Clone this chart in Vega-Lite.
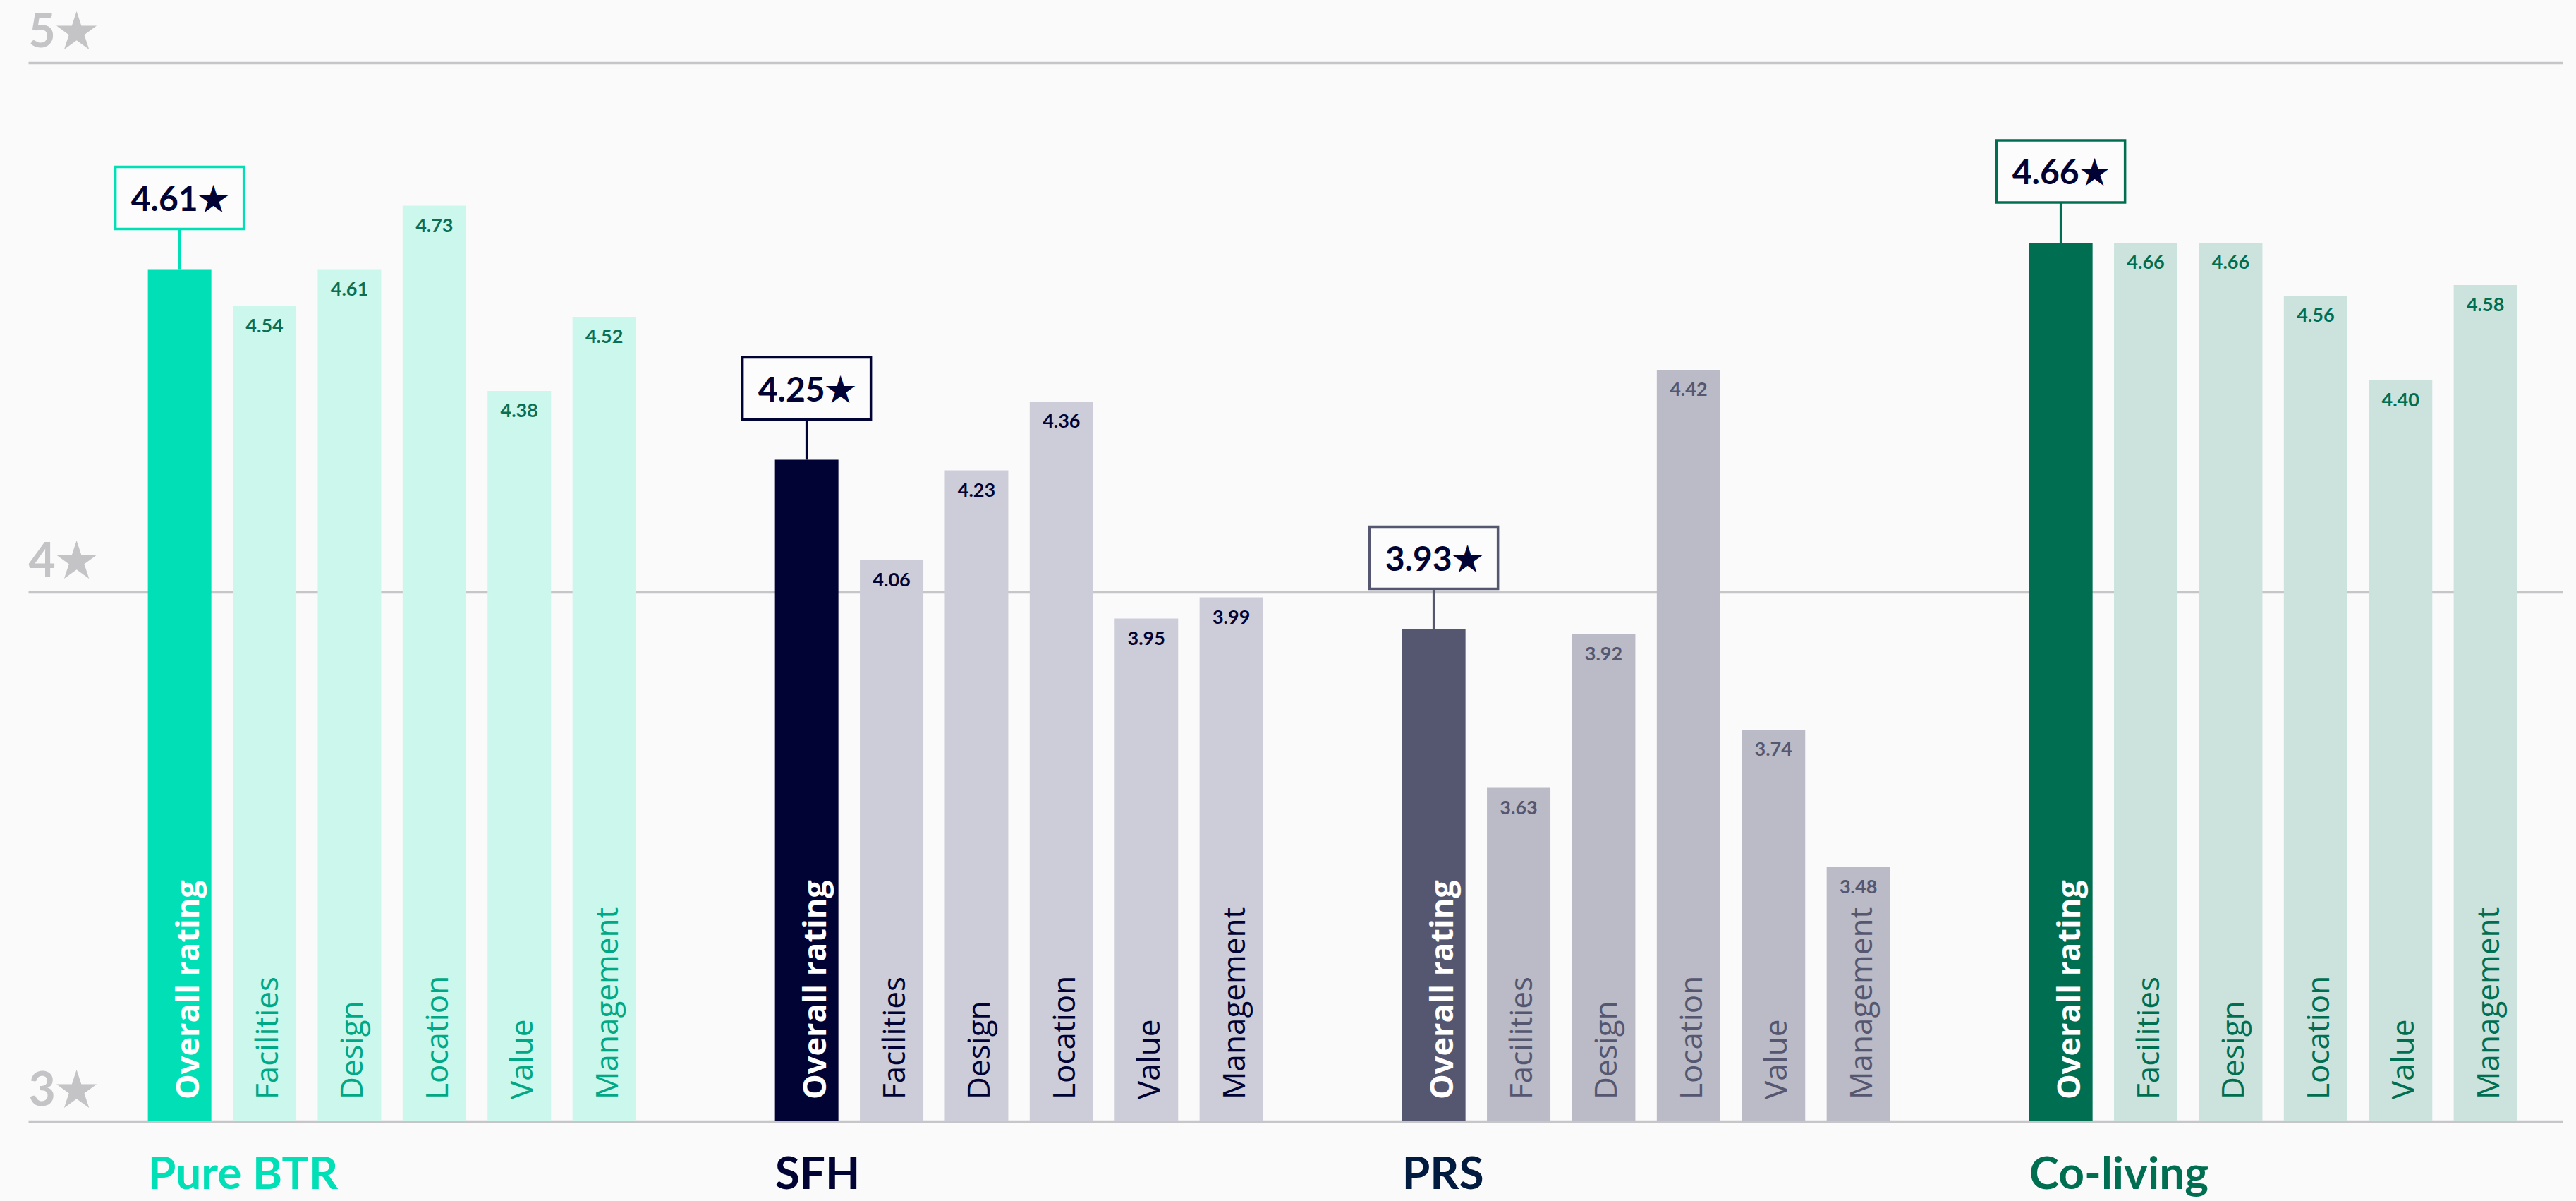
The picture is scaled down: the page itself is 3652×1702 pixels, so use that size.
{
  "$schema": "https://vega.github.io/schema/vega-lite/v6.json",
  "width": 3593,
  "height": 1500,
  "autosize": {"type": "none"},
  "padding": {"left": 40, "top": 89, "right": 19, "bottom": 113},
  "background": "#fafafa",
  "config": {"view": {"stroke": null}, "font": "Lato"},
  "data": {
    "values": [
      {"group": "Pure BTR", "category": "Overall rating", "value": 4.61},
      {"group": "Pure BTR", "category": "Facilities", "value": 4.54},
      {"group": "Pure BTR", "category": "Design", "value": 4.61},
      {"group": "Pure BTR", "category": "Location", "value": 4.73},
      {"group": "Pure BTR", "category": "Value", "value": 4.38},
      {"group": "Pure BTR", "category": "Management", "value": 4.52},
      {"group": "SFH", "category": "Overall rating", "value": 4.25},
      {"group": "SFH", "category": "Facilities", "value": 4.06},
      {"group": "SFH", "category": "Design", "value": 4.23},
      {"group": "SFH", "category": "Location", "value": 4.36},
      {"group": "SFH", "category": "Value", "value": 3.95},
      {"group": "SFH", "category": "Management", "value": 3.99},
      {"group": "PRS", "category": "Overall rating", "value": 3.93},
      {"group": "PRS", "category": "Facilities", "value": 3.63},
      {"group": "PRS", "category": "Design", "value": 3.92},
      {"group": "PRS", "category": "Location", "value": 4.42},
      {"group": "PRS", "category": "Value", "value": 3.74},
      {"group": "PRS", "category": "Management", "value": 3.48},
      {"group": "Co-living", "category": "Overall rating", "value": 4.66},
      {"group": "Co-living", "category": "Facilities", "value": 4.66},
      {"group": "Co-living", "category": "Design", "value": 4.66},
      {"group": "Co-living", "category": "Location", "value": 4.56},
      {"group": "Co-living", "category": "Value", "value": 4.40},
      {"group": "Co-living", "category": "Management", "value": 4.58}
    ]
  },
  "transform": [
    {"calculate": "datum.group + '|' + (datum.category === 'Overall rating' ? 'o' : 's')", "as": "kind"},
    {"calculate": "format(datum.value, '.2f') + '★'", "as": "boxLabel"}
  ],
  "encoding": {
    "x": {
      "field": "group",
      "type": "nominal",
      "sort": ["Pure BTR", "SFH", "PRS", "Co-living"],
      "scale": {"paddingInner": 0.2216, "paddingOuter": 0.1316, "align": 0.725},
      "axis": {
        "title": null,
        "domain": false,
        "ticks": false,
        "tickSize": 0,
        "labelAngle": 0,
        "labelAlign": "left",
        "labelOffset": -346,
        "labelPadding": 95,
        "labelBaseline": "alphabetic",
        "labelFont": "Lato",
        "labelFontSize": 64,
        "labelFontWeight": "bold",
        "labelLimit": 1000,
        "labelColor": {"expr": "datum.value === 'Pure BTR' ? '#00dfb6' : datum.value === 'Co-living' ? '#006f51' : datum.value === 'PRS' ? '#001a40' : '#000333'"}
      }
    },
    "xOffset": {
      "field": "category",
      "type": "nominal",
      "sort": ["Overall rating", "Facilities", "Design", "Location", "Value", "Management"],
      "scale": {"paddingInner": 0.2525, "paddingOuter": 0}
    }
  },
  "layer": [
    {
      "mark": {"type": "bar"},
      "encoding": {
        "y": {
          "field": "value",
          "type": "quantitative",
          "scale": {"domain": [3, 5], "zero": false, "nice": false},
          "axis": {
            "title": null,
            "values": [3, 4, 5],
            "grid": true,
            "gridColor": "#c6c6c8",
            "gridWidth": 3.7,
            "domain": false,
            "ticks": false,
            "tickSize": 0,
            "labelExpr": "datum.value + '★'",
            "labelAlign": "left",
            "labelPadding": 0,
            "labelOffset": -23,
            "labelBaseline": "alphabetic",
            "labelFont": "Lato",
            "labelFontSize": 66,
            "labelFontWeight": "bold",
            "labelColor": "#c4c4c6",
            "labelFlush": false,
            "labelOverlap": false,
            "labelLimit": 1000
          }
        },
        "y2": {"datum": 3},
        "color": {
          "field": "kind",
          "type": "nominal",
          "legend": null,
          "scale": {
            "domain": ["Pure BTR|o", "Pure BTR|s", "SFH|o", "SFH|s", "PRS|o", "PRS|s", "Co-living|o", "Co-living|s"],
            "range": ["#00dfb6", "#ccf7ec", "#000333", "#cdcdd9", "#555770", "#bbbbc8", "#006f51", "#cce3dd"]
          }
        }
      }
    },
    {
      "transform": [{"filter": "datum.category === 'Overall rating'"}],
      "mark": {"type": "text", "angle": 270, "align": "left", "baseline": "alphabetic", "dx": 31, "dy": 27, "font": "Open Sans", "fontSize": 45, "fontWeight": "bold", "color": "#ffffff"},
      "encoding": {
        "y": {"datum": 3, "type": "quantitative"},
        "text": {"field": "category"}
      }
    },
    {
      "transform": [{"filter": "datum.category !== 'Overall rating'"}],
      "mark": {"type": "text", "angle": 270, "align": "left", "baseline": "alphabetic", "dx": 31, "dy": 19, "font": "Open Sans", "fontSize": 44},
      "encoding": {
        "y": {"datum": 3, "type": "quantitative"},
        "text": {"field": "category"},
        "color": {
          "field": "group",
          "type": "nominal",
          "legend": null,
          "scale": {"domain": ["Pure BTR", "SFH", "PRS", "Co-living"], "range": ["#00a885", "#000333", "#555770", "#006f51"]}
        }
      }
    },
    {
      "transform": [{"filter": "datum.category !== 'Overall rating'"}],
      "mark": {"type": "text", "align": "center", "baseline": "alphabetic", "dy": 37, "font": "Lato", "fontSize": 27, "fontWeight": "bold"},
      "encoding": {
        "y": {"field": "value", "type": "quantitative"},
        "text": {"field": "value", "format": ".2f"},
        "color": {
          "field": "group",
          "type": "nominal",
          "legend": null,
          "scale": {"domain": ["Pure BTR", "SFH", "PRS", "Co-living"], "range": ["#0b6f56", "#000333", "#555770", "#006f51"]}
        }
      }
    },
    {
      "transform": [{"filter": "datum.category === 'Overall rating'"}],
      "mark": {"type": "rule", "strokeWidth": 3.5, "yOffset": -57},
      "encoding": {
        "y": {"field": "value", "type": "quantitative"},
        "y2": {"field": "value"},
        "stroke": {
          "field": "group",
          "type": "nominal",
          "legend": null,
          "scale": {"domain": ["Pure BTR", "SFH", "PRS", "Co-living"], "range": ["#00dfb6", "#000333", "#555770", "#006f51"]}
        }
      }
    },
    {
      "transform": [{"filter": "datum.category === 'Overall rating'"}],
      "mark": {"type": "bar", "width": 182, "fill": "#fcfcfc", "strokeWidth": 3.5, "yOffset": -145, "y2Offset": -57},
      "encoding": {
        "y": {"field": "value", "type": "quantitative", "stack": null},
        "y2": {"field": "value"},
        "stroke": {
          "field": "group",
          "type": "nominal",
          "legend": null,
          "scale": {"domain": ["Pure BTR", "SFH", "PRS", "Co-living"], "range": ["#00dfb6", "#000333", "#555770", "#006f51"]}
        }
      }
    },
    {
      "transform": [{"filter": "datum.category === 'Overall rating'"}],
      "mark": {"type": "text", "align": "center", "baseline": "alphabetic", "dy": -83, "font": "Lato", "fontSize": 48, "fontWeight": "bold", "color": "#000333"},
      "encoding": {
        "y": {"field": "value", "type": "quantitative"},
        "text": {"field": "boxLabel"}
      }
    }
  ],
  "resolve": {"scale": {"color": "independent"}}
}
